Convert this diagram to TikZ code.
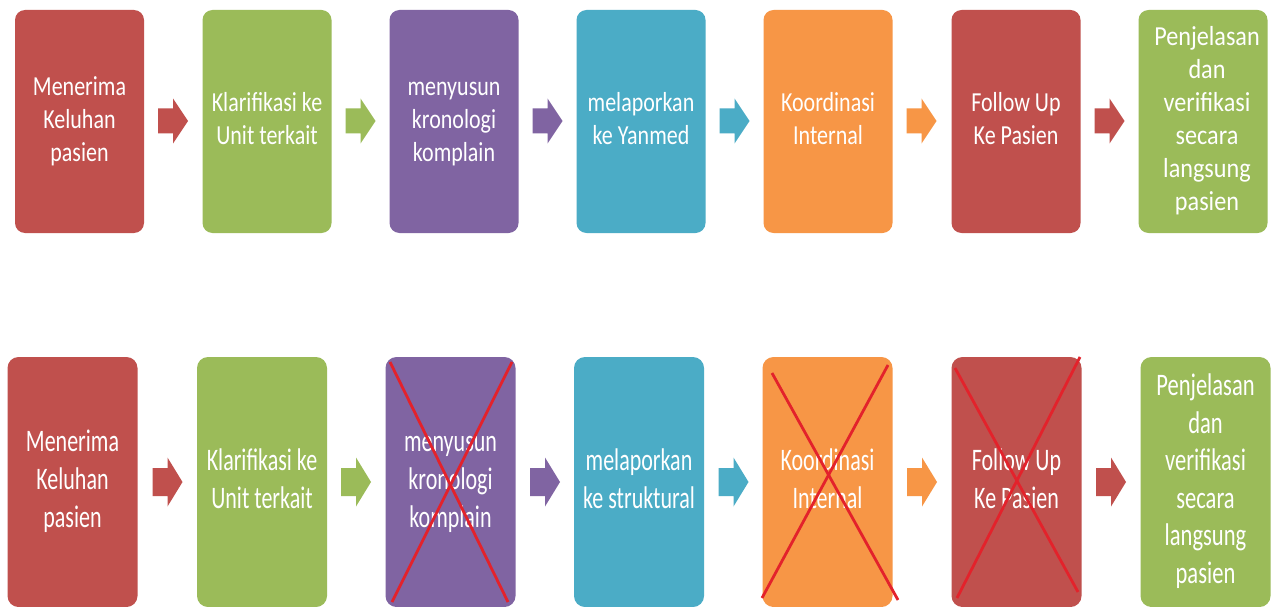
\documentclass[tikz,border=0pt]{standalone}
\usepackage{fontspec}
\setmainfont{Carlito}
\definecolor{cred}{HTML}{C0504D}
\definecolor{cgreen}{HTML}{9BBB59}
\definecolor{cpurple}{HTML}{8064A2}
\definecolor{ccyan}{HTML}{4BACC6}
\definecolor{corange}{HTML}{F79646}
\definecolor{xred}{HTML}{E3222B}
\newcommand\btxt[3]{\scalebox{#1}[#2]{\begin{tabular}{@{}c@{}}#3\end{tabular}}}
\tikzset{
  box/.style={rectangle, rounded corners=10pt, inner sep=0pt, text=white,
    font=\fontsize{27.5}{33}\selectfont},
  topbox/.style={box, minimum width=129pt, minimum height=223pt},
  botbox/.style={box, minimum width=130pt, minimum height=250pt, rounded corners=11pt},
  cross/.style={draw=xred, line width=2.8pt},
  tarrow/.pic={\fill[#1] (-15,-12.5) -- (0,-12.5) -- (0,-22.5) -- (15,0) -- (0,22.5) -- (0,12.5) -- (-15,12.5) -- cycle;},
  barrow/.pic={\fill[#1] (-15,-14) -- (0,-14) -- (0,-24.5) -- (15,0) -- (0,24.5) -- (0,14) -- (-15,14) -- cycle;}
}
\begin{document}
\begin{tikzpicture}[x=1pt,y=-1pt]
\useasboundingbox (0,0) rectangle (1271,607);
\fill[white] (0,0) rectangle (1271,607);
\clip (0,0) rectangle (1271,607);
% top row
\node[topbox, fill=cred]    (t1) at (79.5,121.5) {\btxt{0.8}{1}{Menerima\\Keluhan\\pasien}};
\node[topbox, fill=cgreen]  (t2) at (267,121.5)  {\btxt{0.8}{1}{Klarifikasi ke\\Unit terkait}};
\node[topbox, fill=cpurple] (t3) at (454,121.5)  {\btxt{0.8}{1}{menyusun\\kronologi\\komplain}};
\node[topbox, fill=ccyan]   (t4) at (641,121.5)  {\btxt{0.8}{1}{melaporkan\\ke Yanmed}};
\node[topbox, fill=corange] (t5) at (828,121.5)  {\btxt{0.8}{1}{Koordinasi\\Internal}};
\node[topbox, fill=cred]    (t6) at (1016,121.5) {\btxt{0.8}{1}{Follow Up\\Ke Pasien}};
\node[topbox, fill=cgreen]  (t7) at (1203,121.5) {\hspace*{8pt}\btxt{0.88}{1}{Penjelasan\\dan\\verifikasi\\secara\\langsung\\pasien}};
\pic at (173,121) {tarrow=cred};
\pic at (360.5,121) {tarrow=cgreen};
\pic at (547.5,121) {tarrow=cpurple};
\pic at (734.5,121) {tarrow=ccyan};
\pic at (921.5,121) {tarrow=corange};
\pic at (1109.5,121) {tarrow=cred};
% bottom row
\node[botbox, fill=cred]    (b1) at (72.5,482)   {\btxt{0.8}{1.14}{Menerima\\Keluhan\\pasien}};
\node[botbox, fill=cgreen]  (b2) at (262,482)    {\btxt{0.8}{1.14}{Klarifikasi ke\\Unit terkait}};
\node[botbox, fill=cpurple] (b3) at (450.5,482)  {\btxt{0.8}{1.14}{menyusun\\kronologi\\komplain}};
\node[botbox, fill=ccyan]   (b4) at (639,482)    {\btxt{0.8}{1.14}{melaporkan\\ke struktural}};
\node[botbox, fill=corange] (b5) at (827.5,482)  {\btxt{0.8}{1.14}{Koordinasi\\Internal}};
\node[botbox, fill=cred]    (b6) at (1016.5,482) {\btxt{0.8}{1.14}{Follow Up\\Ke Pasien}};
\node[botbox, fill=cgreen]  (b7) at (1205.5,482) {\btxt{0.82}{1.14}{Penjelasan\\dan\\verifikasi\\secara\\langsung\\pasien}};
\pic at (167.5,482) {barrow=cred};
\pic at (356,482) {barrow=cgreen};
\pic at (545,482) {barrow=cpurple};
\pic at (733.5,482) {barrow=ccyan};
\pic at (922,482) {barrow=corange};
\pic at (1111,482) {barrow=cred};
% crosses
\draw[cross] (390,362) -- (508,602);
\draw[cross] (512,362) -- (392,602);
\draw[cross] (772,373) -- (898,600);
\draw[cross] (888,365) -- (762,598);
\draw[cross] (955,368) -- (1078,592);
\draw[cross] (1080,357) -- (957,598);
\end{tikzpicture}
\end{document}
